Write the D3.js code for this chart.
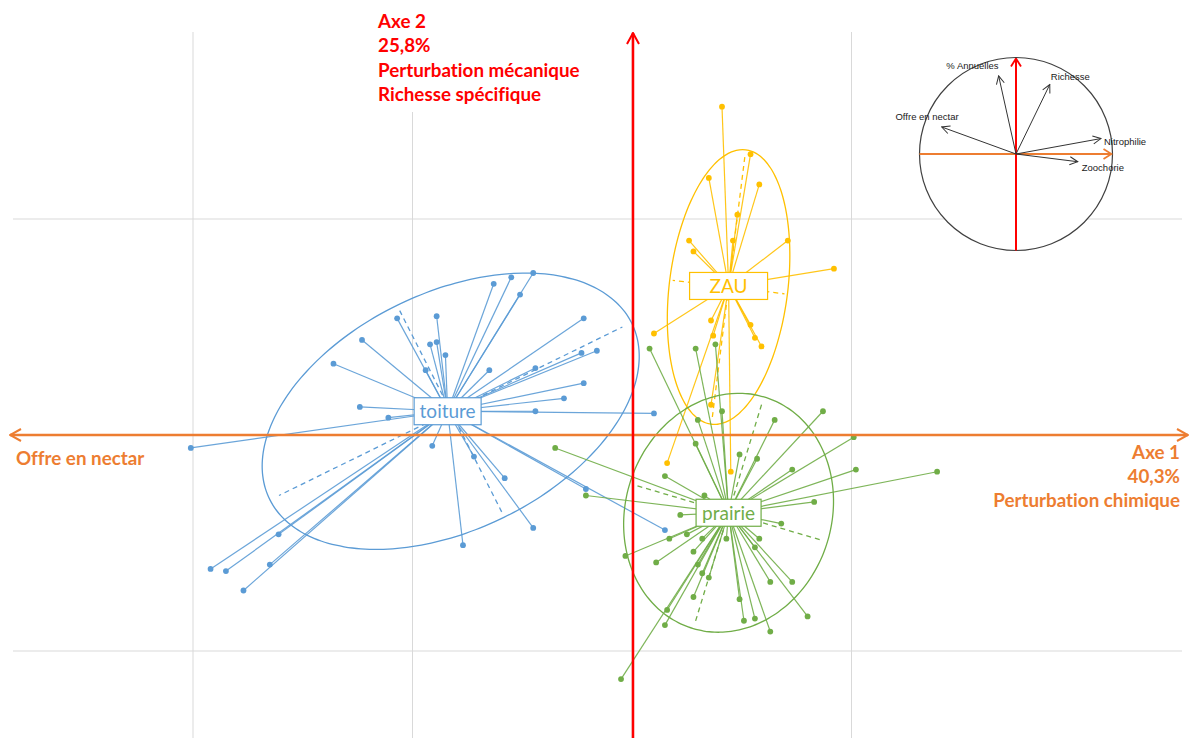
<!DOCTYPE html>
<html>
<head>
<meta charset="utf-8">
<script src="https://cdn.jsdelivr.net/npm/d3@7"></script>
<style>
  body { margin: 0; background: #ffffff; }
  svg { display: block; }
  text { font-variant-ligatures: none; }
</style>
</head>
<body>
<svg id="chart" width="1192" height="738"></svg>
<script>
// ---- Data: PCA individual scores (Dim 1, Dim 2) per habitat group ----
const groupNames = ["toiture", "ZAU", "prairie"];

const toiturePoints = [
  [-1.07, 0.54], [-0.89, 0.55], [-1.23, 0.44], [-1.36, 0.33], [-0.92, 0.42],
  [-0.89, 0.43], [-0.85, 0.37], [-0.94, 0.30], [-1.24, 0.13], [-1.11, 0.08],
  [-2.01, -0.06], [-0.63, 0.70], [-0.55, 0.73], [-0.45, 0.75], [-0.51, 0.65],
  [-0.22, 0.54], [-0.65, 0.30], [-0.44, 0.31], [-0.23, 0.38], [-0.16, 0.39],
  [-0.22, 0.24], [-0.31, 0.17], [-0.44, 0.11], [0.10, 0.10], [-0.91, -0.05],
  [-0.72, -0.10], [-0.58, -0.20], [-0.45, -0.43], [-0.77, -0.51], [-1.61, -0.46],
  [-1.92, -0.62], [-1.85, -0.63], [-1.65, -0.60], [-1.77, -0.72], [-0.21, -0.25],
  [0.15, -0.44]
];

const zauPoints = [
  [0.41, 1.52], [0.54, 1.30], [0.35, 1.19], [0.58, 1.16], [0.48, 1.02],
  [0.46, 0.90], [0.71, 0.90], [0.26, 0.90], [0.28, 0.85], [0.92, 0.77],
  [0.10, 0.47], [0.36, 0.53], [0.37, 0.46], [0.54, 0.51], [0.56, 0.45],
  [0.59, 0.41], [0.36, 0.14], [0.16, -0.13], [0.45, -0.17]
];

const prairiePoints = [
  [0.08, 0.40], [0.29, 0.40], [0.38, 0.42], [0.41, 0.11], [0.30, 0.07],
  [0.29, -0.04], [-0.35, -0.06], [0.15, -0.19], [0.33, -0.28], [-0.21, -0.28],
  [0.22, -0.37], [0.49, -0.09], [0.57, -0.11], [0.65, 0.07], [0.87, 0.11],
  [1.01, -0.01], [0.73, -0.16], [1.02, -0.16], [1.39, -0.17], [0.83, -0.31],
  [0.68, -0.41], [0.58, -0.48], [0.43, -0.48], [0.32, -0.48], [0.17, -0.48],
  [0.25, -0.46], [-0.03, -0.56], [0.11, -0.59], [0.28, -0.54], [0.30, -0.60],
  [0.32, -0.64], [0.35, -0.66], [0.56, -0.52], [0.63, -0.68], [0.73, -0.68],
  [0.49, -0.76], [0.28, -0.75], [0.16, -0.81], [0.15, -0.88], [0.51, -0.86],
  [0.56, -0.85], [0.63, -0.91], [0.80, -0.84], [-0.05, -1.13]
];

// Group centroids (Dim 1, Dim 2)
const groupCentres = [[-0.84, 0.11], [0.44, 0.69], [0.44, -0.36]];

// Concentration ellipses: centre, semi-axes (score units) and major-axis angle (degrees)
const ellipseCentres = [[-0.826, 0.11], [0.44, 0.685], [0.44, -0.36]];
const ellipseSemiMajor = [0.92, 0.64, 0.56];
const ellipseSemiMinor = [0.548, 0.27, 0.47];
const ellipseAngle = [26.5, 83.0, 73.3];

// Correlation circle: variable loadings on Dim 1 and Dim 2
const varNames = ["% Annuelles", "Richesse", "Offre en nectar", "Nitrophilie", "Zoochorie"];
const varDim1 = [-0.18, 0.35, -0.77, 0.88, 0.64];
const varDim2 = [0.81, 0.72, 0.28, 0.16, -0.08];

// Axis captions
const axis2Lines = ["Axe 2", "25,8%", "Perturbation mécanique", "Richesse spécifique"];
const axis1Lines = ["Axe 1", "40,3%", "Perturbation chimique"];
const axis1NegCaption = "Offre en nectar";

// Grid values
const xGridValues = [-2, -1, 0, 1];
const yGridValues = [1, 0, -1];

// ---- Styling ----
const groupColors = ["#5B9BD5", "#FFC000", "#70AD47"];
const groupBoxWidths = [67, 78, 65];
const ORANGE = "#ED7D31";
const RED = "#FF0000";
const FONT = "Lato, 'Open Sans', sans-serif";
const CAPTION_SIZE = 18.8;
const plot = { left: 13, right: 1182, top: 32, bottom: 738 };

const svg = d3.select("#chart");

// ---- Scales ----
const x = d3.scaleLinear().domain([-3, 3]).range([632 - 3 * 219.5, 632 + 3 * 219.5]);
const y = d3.scaleLinear().domain([-2, 2]).range([435 + 2 * 216, 435 - 2 * 216]);

// ---- Arrow markers ----
const defs = svg.append("defs");
function chevron(id, color, len, half, sw) {
  defs.append("marker")
    .attr("id", id)
    .attr("viewBox", `0 0 ${len + 2} ${2 * half + 2}`)
    .attr("refX", len + 1)
    .attr("refY", half + 1)
    .attr("markerWidth", len + 2)
    .attr("markerHeight", 2 * half + 2)
    .attr("markerUnits", "userSpaceOnUse")
    .attr("orient", "auto-start-reverse")
    .append("path")
    .attr("d", `M1,1 L${len + 1},${half + 1} L1,${2 * half + 1}`)
    .attr("fill", "none")
    .attr("stroke", color)
    .attr("stroke-width", sw)
    .attr("stroke-linejoin", "miter");
}
chevron("arrOrange", ORANGE, 11, 6, 2);
chevron("arrRed", RED, 11, 6, 2);
chevron("arrOrangeS", ORANGE, 8, 5, 1.8);
chevron("arrRedS", RED, 8, 5, 1.8);
chevron("arrDark", "#333333", 8, 4, 1);

// ---- Gridlines ----
const grid = svg.append("g").attr("stroke", "#D9D9D9").attr("stroke-width", 1);
grid.selectAll("line.v").data(xGridValues).join("line")
  .attr("class", "v")
  .attr("x1", d => x(d)).attr("x2", d => x(d))
  .attr("y1", plot.top).attr("y2", plot.bottom);
grid.selectAll("line.h").data(yGridValues).join("line")
  .attr("class", "h")
  .attr("x1", plot.left).attr("x2", plot.right)
  .attr("y1", d => y(d)).attr("y2", d => y(d));

// ---- Groups: ellipses, axes of ellipses, star lines, points ----
const allPoints = [toiturePoints, zauPoints, prairiePoints];

function ellipsePath(c, a, b, deg) {
  const th = deg * Math.PI / 180;
  const pts = d3.range(0, 360, 3).map(t => {
    const r = t * Math.PI / 180;
    const dx = a * Math.cos(r) * Math.cos(th) - b * Math.sin(r) * Math.sin(th);
    const dy = a * Math.cos(r) * Math.sin(th) + b * Math.sin(r) * Math.cos(th);
    return [x(c[0] + dx), y(c[1] + dy)];
  });
  return d3.line().curve(d3.curveCardinalClosed)(pts);
}

const layer = svg.append("g");
groupNames.forEach((name, i) => {
  const c = groupCentres[i];
  const e = ellipseCentres[i];
  const col = groupColors[i];
  const g = layer.append("g").attr("class", "group-" + name);

  g.append("path")
    .attr("d", ellipsePath(e, ellipseSemiMajor[i], ellipseSemiMinor[i], ellipseAngle[i]))
    .attr("fill", "none").attr("stroke", col).attr("stroke-width", 1.3);

  // principal axes of the ellipse (dashed)
  const th = ellipseAngle[i] * Math.PI / 180;
  const k = 0.95;
  const axesEnds = [
    [ellipseSemiMajor[i] * k * Math.cos(th), ellipseSemiMajor[i] * k * Math.sin(th)],
    [-ellipseSemiMajor[i] * k * Math.cos(th), -ellipseSemiMajor[i] * k * Math.sin(th)],
    [-ellipseSemiMinor[i] * k * Math.sin(th), ellipseSemiMinor[i] * k * Math.cos(th)],
    [ellipseSemiMinor[i] * k * Math.sin(th), -ellipseSemiMinor[i] * k * Math.cos(th)]
  ];
  g.selectAll("line.axis").data(axesEnds).join("line")
    .attr("class", "axis")
    .attr("x1", x(e[0])).attr("y1", y(e[1]))
    .attr("x2", d => x(e[0] + d[0])).attr("y2", d => y(e[1] + d[1]))
    .attr("stroke", col).attr("stroke-width", 1.3).attr("stroke-dasharray", "5,4");

  g.selectAll("line.star").data(allPoints[i]).join("line")
    .attr("class", "star")
    .attr("x1", x(c[0])).attr("y1", y(c[1]))
    .attr("x2", d => x(d[0])).attr("y2", d => y(d[1]))
    .attr("stroke", col).attr("stroke-width", 1.2).attr("stroke-opacity", 0.9);

  g.selectAll("circle").data(allPoints[i]).join("circle")
    .attr("cx", d => x(d[0])).attr("cy", d => y(d[1]))
    .attr("r", 2.9).attr("fill", col);
});

// ---- Main factorial axes ----
svg.append("line")
  .attr("x1", 10).attr("x2", 1188)
  .attr("y1", y(0)).attr("y2", y(0))
  .attr("stroke", ORANGE).attr("stroke-width", 2.5)
  .attr("marker-start", "url(#arrOrange)").attr("marker-end", "url(#arrOrange)");
svg.append("line")
  .attr("x1", x(0) + 1).attr("x2", x(0) + 1)
  .attr("y1", 745).attr("y2", 33)
  .attr("stroke", RED).attr("stroke-width", 2.5)
  .attr("marker-end", "url(#arrRed)");

// ---- Group labels ----
groupNames.forEach((name, i) => {
  const c = groupCentres[i];
  const w = groupBoxWidths[i], h = 27;
  const g = svg.append("g").attr("transform", `translate(${x(c[0])},${y(c[1])})`);
  g.append("rect")
    .attr("x", -w / 2).attr("y", -h / 2).attr("width", w).attr("height", h)
    .attr("fill", "#ffffff").attr("stroke", groupColors[i]).attr("stroke-width", 1.2);
  g.append("text")
    .attr("text-anchor", "middle").attr("dy", "0.36em")
    .attr("font-family", FONT).attr("font-size", 19)
    .attr("fill", groupColors[i])
    .text(name);
});

// ---- Axis captions ----
svg.append("rect").attr("x", 372).attr("y", 4).attr("width", 222).attr("height", 108).attr("fill", "#ffffff");
svg.append("g").selectAll("text").data(axis2Lines).join("text")
  .attr("x", 378).attr("y", (d, i) => 28 + i * 24.4)
  .attr("font-family", FONT).attr("font-weight", "bold").attr("font-size", CAPTION_SIZE)
  .attr("fill", RED).text(d => d);

svg.append("g").selectAll("text").data(axis1Lines).join("text")
  .attr("x", 1180).attr("y", (d, i) => 459 + i * 24)
  .attr("text-anchor", "end")
  .attr("font-family", FONT).attr("font-weight", "bold").attr("font-size", CAPTION_SIZE)
  .attr("fill", ORANGE).text(d => d);

svg.append("text")
  .attr("x", 16).attr("y", 465)
  .attr("font-family", FONT).attr("font-weight", "bold").attr("font-size", CAPTION_SIZE)
  .attr("fill", ORANGE).text(axis1NegCaption);

// ---- Correlation circle inset ----
const cx = d3.scaleLinear().domain([-1, 1]).range([1016 - 96.5, 1016 + 96.5]);
const cy = d3.scaleLinear().domain([-1, 1]).range([154 + 96.5, 154 - 96.5]);
const inset = svg.append("g");
inset.append("circle")
  .attr("cx", cx(0)).attr("cy", cy(0)).attr("r", cx(1) - cx(0))
  .attr("fill", "#ffffff").attr("stroke", "#404040").attr("stroke-width", 1.2);
inset.append("line")
  .attr("x1", cx(-1)).attr("x2", cx(1) - 1).attr("y1", cy(0)).attr("y2", cy(0))
  .attr("stroke", ORANGE).attr("stroke-width", 2).attr("marker-end", "url(#arrOrangeS)");
inset.append("line")
  .attr("x1", cx(0)).attr("x2", cx(0)).attr("y1", cy(-1)).attr("y2", cy(1) + 1)
  .attr("stroke", RED).attr("stroke-width", 2).attr("marker-end", "url(#arrRedS)");

const labelOffsets = {
  "% Annuelles": [0, -7, "end"],
  "Richesse": [1, -5, "start"],
  "Offre en nectar": [17, -7, "end"],
  "Nitrophilie": [3, 6, "start"],
  "Zoochorie": [4, 9, "start"]
};
const vars = varNames.map((n, i) => ({ name: n, d1: varDim1[i], d2: varDim2[i] }));
inset.selectAll("line.var").data(vars).join("line")
  .attr("class", "var")
  .attr("x1", cx(0)).attr("y1", cy(0))
  .attr("x2", d => cx(d.d1)).attr("y2", d => cy(d.d2))
  .attr("stroke", "#333333").attr("stroke-width", 1)
  .attr("marker-end", "url(#arrDark)");
inset.selectAll("text").data(vars).join("text")
  .attr("x", d => cx(d.d1) + labelOffsets[d.name][0])
  .attr("y", d => cy(d.d2) + labelOffsets[d.name][1])
  .attr("text-anchor", d => labelOffsets[d.name][2])
  .attr("font-family", "'Liberation Sans', Arial, sans-serif").attr("font-size", 9.5)
  .attr("fill", "#1a1a1a").text(d => d.name);
</script>
</body>
</html>
